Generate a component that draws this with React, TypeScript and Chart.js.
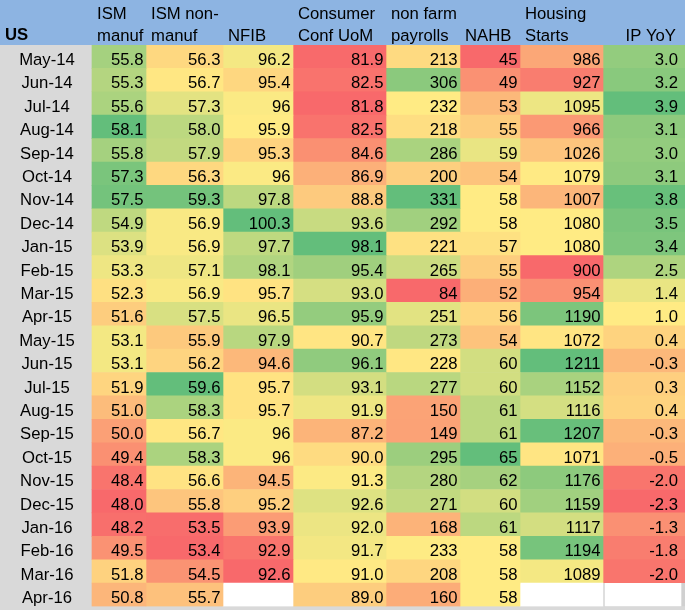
import React, { useEffect, useRef } from "react";
import { Chart, registerables } from "chart.js";

Chart.register(...registerables);

// ---------- data ----------
const months = [
  "May-14", "Jun-14", "Jul-14", "Aug-14", "Sep-14", "Oct-14", "Nov-14", "Dec-14",
  "Jan-15", "Feb-15", "Mar-15", "Apr-15", "May-15", "Jun-15", "Jul-15", "Aug-15",
  "Sep-15", "Oct-15", "Nov-15", "Dec-15", "Jan-16", "Feb-16", "Mar-16", "Apr-16",
];

const ismManuf = [55.8, 55.3, 55.6, 58.1, 55.8, 57.3, 57.5, 54.9, 53.9, 53.3, 52.3, 51.6, 53.1, 53.1, 51.9, 51.0, 50.0, 49.4, 48.4, 48.0, 48.2, 49.5, 51.8, 50.8];
const ismNonManuf = [56.3, 56.7, 57.3, 58.0, 57.9, 56.3, 59.3, 56.9, 56.9, 57.1, 56.9, 57.5, 55.9, 56.2, 59.6, 58.3, 56.7, 58.3, 56.6, 55.8, 53.5, 53.4, 54.5, 55.7];
const nfib = [96.2, 95.4, 96, 95.9, 95.3, 96, 97.8, 100.3, 97.7, 98.1, 95.7, 96.5, 97.9, 94.6, 95.7, 95.7, 96, 96, 94.5, 95.2, 93.9, 92.9, 92.6, null];
const consumerConf = [81.9, 82.5, 81.8, 82.5, 84.6, 86.9, 88.8, 93.6, 98.1, 95.4, 93.0, 95.9, 90.7, 96.1, 93.1, 91.9, 87.2, 90.0, 91.3, 92.6, 92.0, 91.7, 91.0, 89.0];
const nonFarmPayrolls = [213, 306, 232, 218, 286, 200, 331, 292, 221, 265, 84, 251, 273, 228, 277, 150, 149, 295, 280, 271, 168, 233, 208, 160];
const nahb = [45, 49, 53, 55, 59, 54, 58, 58, 57, 55, 52, 56, 54, 60, 60, 61, 61, 65, 62, 60, 61, 58, 58, 58];
const housingStarts = [986, 927, 1095, 966, 1026, 1079, 1007, 1080, 1080, 900, 954, 1190, 1072, 1211, 1152, 1116, 1207, 1071, 1176, 1159, 1117, 1194, 1089, null];
const ipYoy = [3.0, 3.2, 3.9, 3.1, 3.0, 3.1, 3.8, 3.5, 3.4, 2.5, 1.4, 1.0, 0.4, -0.3, 0.3, 0.4, -0.3, -0.5, -2.0, -2.3, -1.3, -1.8, -2.0, null];

const series: (number | null)[][] = [ismManuf, ismNonManuf, nfib, consumerConf, nonFarmPayrolls, nahb, housingStarts, ipYoy];
const cornerLabel = "US";
const headLine1 = ["ISM", "ISM non-", "", "Consumer", "non farm", "", "Housing", ""];
const headLine2 = ["manuf", "manuf", "NFIB", "Conf UoM", "payrolls", "NAHB", "Starts", "IP YoY"];
const decimals: (number | null)[] = [1, 1, null, 1, 0, 0, 0, 1];

// ---------- layout / style ----------
const W = 685;
const H = 610;
const HEADER_H = 45;
const BOTTOM_PAD = 3.5;
const LABEL_COL_W = 92;
const COL_WIDTHS = [54, 77, 70, 93, 74, 60, 83, 82];
const VALUE_INSET = [2.5, 2.5, 2.5, 2.5, 2.5, 2.5, 2.5, 7];
const HEAD_RIGHT_ALIGN = [false, false, false, false, false, false, false, true];
const FONT_FAMILY = '"Liberation Sans", Arial, sans-serif';
const FONT_SIZE = 16.7;
const RED = [248, 105, 107];
const YELLOW = [255, 235, 132];
const GREEN = [99, 190, 123];

const colEdges: number[] = [LABEL_COL_W];
COL_WIDTHS.forEach((w) => colEdges.push(colEdges[colEdges.length - 1] + w));

function percentileInc(sorted: number[], p: number) {
  const pos = (sorted.length - 1) * p;
  const lo = Math.floor(pos);
  const hi = Math.ceil(pos);
  return sorted[lo] + (sorted[hi] - sorted[lo]) * (pos - lo);
}

function mix(a: number[], b: number[], t: number) {
  const c = a.map((v, i) => Math.round(v + (b[i] - v) * t));
  return `rgb(${c[0]},${c[1]},${c[2]})`;
}

function colorsFor(values: (number | null)[]) {
  const nums = values.filter((v): v is number => v !== null).sort((a, b) => a - b);
  const min = nums[0];
  const max = nums[nums.length - 1];
  const mid = percentileInc(nums, 0.5);
  return values.map((v) => {
    if (v === null) return "#FFFFFF";
    if (v <= mid) return mix(RED, YELLOW, mid === min ? 1 : (v - min) / (mid - min));
    return mix(YELLOW, GREEN, max === mid ? 0 : (v - mid) / (max - mid));
  });
}

function fmt(v: number | null, d: number | null) {
  if (v === null) return "";
  return d === null ? String(v) : v.toFixed(d);
}

const tablePlugin = {
  id: "tableText",
  beforeDraw(chart: any) {
    const { ctx, chartArea } = chart;
    ctx.save();
    ctx.fillStyle = "#D9D9D9";
    ctx.fillRect(0, 0, chart.width, chart.height);
    ctx.fillStyle = "#8DB4E2";
    ctx.fillRect(0, 0, chart.width, chartArea.top);
    ctx.restore();
  },
  afterDatasetsDraw(chart: any) {
    const { ctx } = chart;
    const xScale = chart.scales.x;
    const yScale = chart.scales.y;
    ctx.save();
    ctx.fillStyle = "#000000";
    ctx.textBaseline = "alphabetic";

    // header
    ctx.font = `bold ${FONT_SIZE}px ${FONT_FAMILY}`;
    ctx.textAlign = "left";
    ctx.fillText(cornerLabel, 5, 40);
    ctx.font = `${FONT_SIZE}px ${FONT_FAMILY}`;
    for (let c = 0; c < series.length; c++) {
      const left = xScale.getPixelForValue(colEdges[c]);
      const right = xScale.getPixelForValue(colEdges[c + 1]);
      if (HEAD_RIGHT_ALIGN[c]) {
        ctx.textAlign = "right";
        if (headLine1[c]) ctx.fillText(headLine1[c], right - 9, 18.5);
        ctx.fillText(headLine2[c], right - 9, 40.5);
      } else {
        ctx.textAlign = "left";
        if (headLine1[c]) ctx.fillText(headLine1[c], left + 5, 18.5);
        ctx.fillText(headLine2[c], left + 5, 40.5);
      }
    }

    // row labels
    const band = (yScale.bottom - yScale.top) / months.length;
    ctx.textAlign = "center";
    months.forEach((m, i) => {
      const yc = yScale.getPixelForValue(i);
      ctx.fillText(m, xScale.getPixelForValue(LABEL_COL_W / 2) + 1, yc + band / 2 - 3.4);
    });

    // values
    ctx.textAlign = "right";
    series.forEach((vals, c) => {
      const meta = chart.getDatasetMeta(c);
      meta.data.forEach((el: any, i: number) => {
        const txt = fmt(vals[i], decimals[c]);
        if (!txt) return;
        const right = Math.max(el.x, el.base);
        ctx.fillText(txt, right - VALUE_INSET[c], el.y + el.height / 2 - 3.4);
      });
    });
    ctx.restore();
  },
};

export default function App() {
  const canvasRef = useRef<HTMLCanvasElement | null>(null);

  useEffect(() => {
    document.body.style.margin = "0";
    const canvas = canvasRef.current;
    if (!canvas) return;

    const datasets = series.map((vals, c) => {
      const colors = colorsFor(vals);
      return {
        label: headLine2[c],
        data: vals.map(() => [colEdges[c], colEdges[c + 1]]),
        backgroundColor: colors,
        borderColor: "#D0D0D0",
        borderSkipped: false,
        borderWidth: vals.map((v, i) => {
          if (v !== null) return 0;
          const prev = series[c - 1];
          const isLast = c === series.length - 1;
          return {
            top: 0,
            bottom: 0,
            left: prev && prev[i] === null ? 2 : 0,
            right: isLast ? 4 : 0,
          };
        }),
        grouped: false,
        barPercentage: 1,
        categoryPercentage: 1,
      };
    });

    const chart = new Chart(canvas, {
      type: "bar",
      data: { labels: months, datasets: datasets as any },
      options: {
        indexAxis: "y",
        animation: false,
        responsive: false,
        maintainAspectRatio: false,
        devicePixelRatio: 1,
        layout: { padding: { top: HEADER_H, bottom: BOTTOM_PAD, left: 0, right: 0 } },
        scales: {
          x: { type: "linear", min: 0, max: colEdges[colEdges.length - 1], display: false },
          y: { type: "category", display: false, offset: true },
        },
        plugins: {
          legend: { display: false },
          tooltip: { enabled: false },
        },
      },
      plugins: [tablePlugin],
    });
    return () => chart.destroy();
  }, []);

  return (
    <div style={{ width: W, height: H }}>
      <canvas ref={canvasRef} width={W} height={H} style={{ width: W, height: H, display: "block" }} />
    </div>
  );
}
